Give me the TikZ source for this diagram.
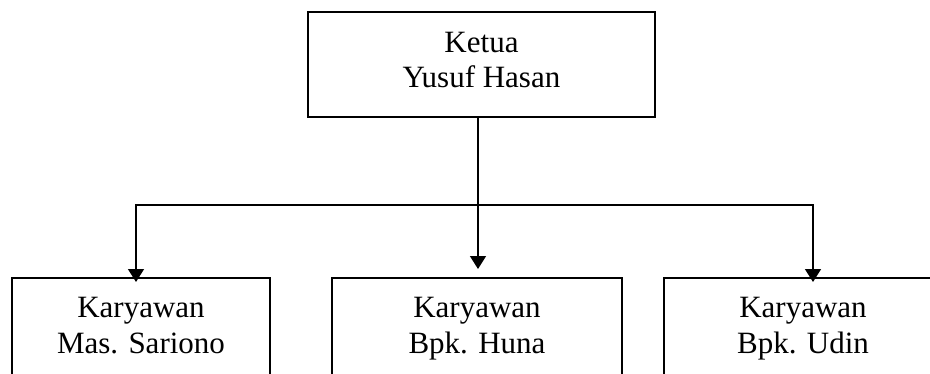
\documentclass[tikz,border=0pt]{standalone}
\usepackage{fontspec}
\setmainfont{Liberation Serif}
\usetikzlibrary{arrows.meta}
\newcommand{\tstrut}{\rule[-10.5pt]{0pt}{35pt}}
\newcommand{\tlast}{\rule[-14.5pt]{0pt}{24.5pt}}
\newcommand{\bstrut}{\rule[-10.8pt]{0pt}{36pt}}
\begin{document}
\begin{tikzpicture}[x=1pt,y=-1pt,
  box/.style={draw,line width=1.5pt,inner sep=0pt,align=center},
  topfont/.style={font=\fontsize{31}{35}\selectfont},
  botfont/.style={font=\fontsize{31}{36}\selectfont},
  arr/.style={line width=1.5pt,-{Triangle[width=16pt,length=13pt]}}]
\useasboundingbox (0,0) rectangle (930,373);
\clip (0,0) rectangle (930,373);
\node[box,topfont,minimum width=347pt,minimum height=105pt] (top) at (481.5,64.5) {\tstrut Ketua\\\tlast Yusuf Hasan};
\node[box,botfont,minimum width=258pt,minimum height=100pt] (left) at (141,328) {\bstrut Karyawan\\\bstrut Mas. Sariono};
\node[box,botfont,minimum width=290pt,minimum height=100pt] (mid) at (477,328) {\bstrut Karyawan\\\bstrut Bpk. Huna};
\node[box,botfont,minimum width=278pt,minimum height=100pt] (right) at (803,328) {\bstrut Karyawan\\\bstrut Bpk. Udin};
\coordinate (j) at (478,205);
\coordinate (la) at (136,282);
\coordinate (ma) at (478,269);
\coordinate (ra) at (813,282);
\draw[arr] (top.south -| j) -- (ma);
\draw[arr] (j) -| (la);
\draw[arr] (j) -| (ra);
\end{tikzpicture}
\end{document}
